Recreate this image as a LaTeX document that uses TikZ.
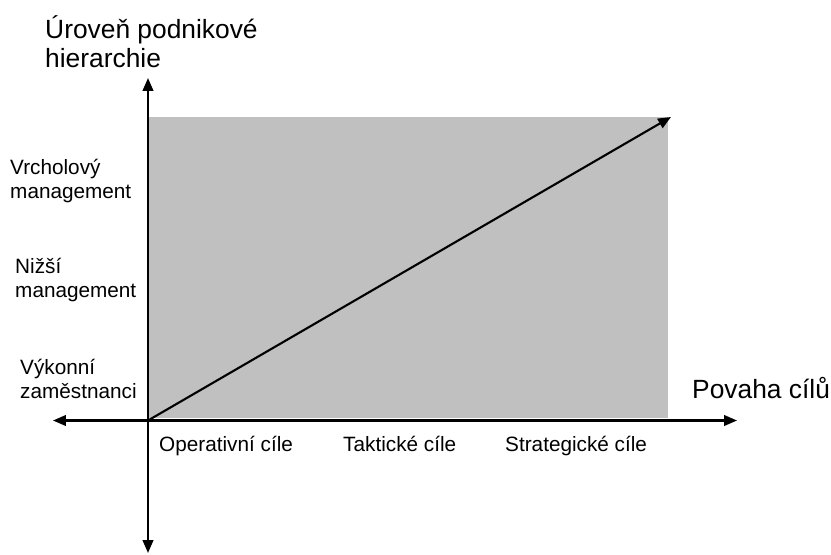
\documentclass[tikz,border=0pt]{standalone}
\usepackage{fontspec}
\setmainfont{Liberation Sans}
\usetikzlibrary{arrows.meta,positioning}
\definecolor{panel}{HTML}{C0C0C0}

\begin{document}
\begin{tikzpicture}[
  x=0.03cm, y=-0.03cm,
  >={Triangle[length=11pt,width=9pt]},
  axis/.style={draw=black,line width=1.8pt},
  lab/.style={inner sep=0pt,anchor=base west,align=left,font=\fontsize{17.7}{20}\selectfont},
  biglab/.style={inner sep=0pt,anchor=base west,align=left,font=\fontsize{22.5}{24.7}\selectfont}
]
\useasboundingbox (0,0) rectangle (831,555);
% shaded region
\fill[panel] (148,117) rectangle (668,418);
% axes
\coordinate (O) at (148,420.5);
\coordinate (ytop) at (148,78); \coordinate (ybot) at (148,553);
\coordinate (xleft) at (53,420.5); \coordinate (xright) at (737,420.5);
\coordinate (tip) at (671,117);
\draw[axis,<->] (ybot) -- (ytop);
\draw[axis,<->] (xleft) -- (xright);
\draw[axis,->] (O) -- (tip);
% labels (anchored at the last line's baseline)
\node[biglab] (ylab) at (45,67) {Úroveň podnikové\\hierarchie};
\node[biglab] (xlab) at (692,398) {Povaha cílů};
\node[lab] (top) at (10,198) {Vrcholový\\management};
\node[lab] (mid) at (15,297) {Nižší\\management};
\node[lab] (low) at (20,398) {Výkonní\\zaměstnanci};
\node[lab] (op) at (159,451) {Operativní cíle};
\node[lab] (tak) at (343,451) {Taktické cíle};
\node[lab] (str) at (505,451) {Strategické cíle};
\end{tikzpicture}
\end{document}
